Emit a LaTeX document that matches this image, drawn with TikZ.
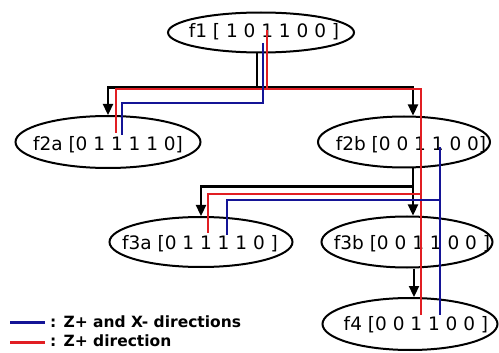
\documentclass[tikz,border=0pt]{standalone}
\usepackage{fontspec}
\setmainfont{DejaVu Sans}
\usetikzlibrary{shapes.geometric,arrows.meta,calc}
\definecolor{zblue}{RGB}{20,20,150}
\definecolor{zred}{RGB}{225,30,35}
\begin{document}
\begin{tikzpicture}[x=1pt,y=-1pt,
  ell/.style={ellipse,draw,line width=2pt,inner sep=0pt},
  lbl/.style={font=\fontsize{18.5}{20}\selectfont,inner sep=0pt,anchor=base},
  tree/.style={line width=2.3pt,-{Triangle[width=10pt,length=11pt]}},
  zr/.style={zred,line width=2.5pt},
  zb/.style={zblue,line width=2.5pt},
  leg/.style={font=\fontsize{15.5}{17}\selectfont\bfseries,anchor=west,inner sep=0pt}]
\useasboundingbox[fill=white] (0,0) rectangle (499,353);

% ellipses
\node[ell, minimum width=186pt, minimum height=40pt] (f1) at (261,32.5) {};
\node[ell, minimum width=185pt, minimum height=52pt] (f2a) at (108,142) {};
\node[ell, minimum width=172pt, minimum height=51pt] (f2b) at (404,142) {};
\node[ell, minimum width=183pt, minimum height=50pt] (f3a) at (201,242) {};
\node[ell, minimum width=171pt, minimum height=51pt] (f3b) at (407,242) {};
\node[ell, minimum width=175pt, minimum height=52pt] (f4) at (410,324) {};

% labels
\node[lbl] (t1) at (264,38) {f1 [ 1 0 1 1 0 0 ]};
\node[lbl] (t2a) at (108,150) {f2a [0 1 1 1 1 0]};
\node[lbl] (t2b) at (411,150) {f2b [0 0 1 1 0 0]};
\node[lbl] (t3a) at (200,250) {f3a [0 1 1 1 1 0 ]};
\node[lbl] (t3b) at (412,250) {f3b [0 0 1 1 0 0 ]};
\node[lbl] (t4) at (416,330) {f4 [0 0 1 1 0 0 ]};

% tree connectors
\draw[tree] ([xshift=-4pt]f1.south) -- ++(0,34) -| (f2a.north);
\draw[tree] ([xshift=-4pt]f1.south) -- ++(0,34) -| ([xshift=9pt]f2b.north);
\draw[tree] ([xshift=9pt]f2b.south) -- ++(0,18) -| (f3a.north);
\draw[tree] ([xshift=9pt]f2b.south) -- ([xshift=6pt]f3b.north);
\draw[tree] ([xshift=7pt]f3b.south) -- ([xshift=4pt]f4.north);

% red paths
\coordinate (r0) at (267,30);
\coordinate (r2a) at (116,133);
\coordinate (r4) at (421,315);
\coordinate (rj) at (421,194);
\coordinate (r3a) at (208,233);
\draw[zr] (r0) -- ++(0,59) -| (r2a);
\draw[zr] (r0) -- ++(0,59) -| (r4);
\draw[zr] (rj) -| (r3a);

% blue paths
\coordinate (b0) at (263,43);
\coordinate (b2a) at (122,135);
\coordinate (b2b) at (440,147);
\coordinate (b4) at (440,315);
\coordinate (bj) at (440,200);
\coordinate (b3a) at (227,235);
\draw[zb] (b0) -- ++(0,60) -| (b2a);
\draw[zb] (b2b) -- (b4);
\draw[zb] (bj) -| (b3a);

% legend
\coordinate (lb1) at (10,322);
\coordinate (lb2) at (45,322);
\coordinate (lr1) at (10,342);
\coordinate (lr2) at (45,342);
\draw[zb,line width=3pt] (lb1) -- (lb2);
\draw[zr,line width=3pt] (lr1) -- (lr2);
\node[leg] (lgb) at (50,322) {: Z+ and X- directions};
\node[leg] (lgr) at (50,341) {: Z+ direction};
\end{tikzpicture}
\end{document}
